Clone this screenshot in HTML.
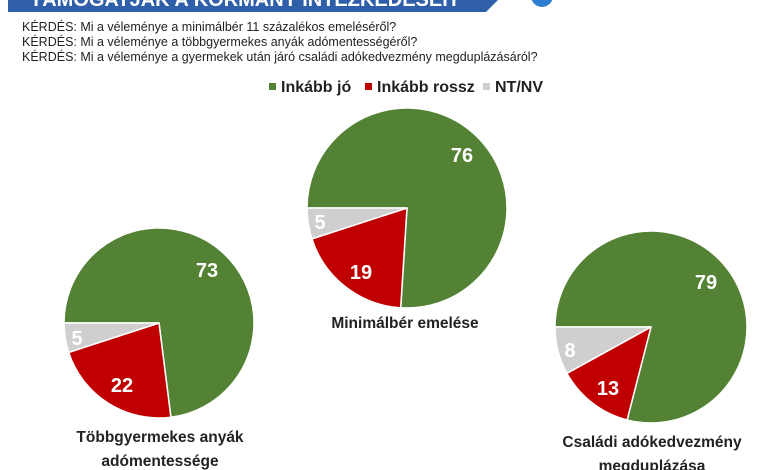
<!DOCTYPE html>
<html><head><meta charset="utf-8"><style>
html,body{margin:0;padding:0;background:#fff;}
body{width:780px;height:470px;overflow:hidden;position:relative;font-family:"Liberation Sans",sans-serif;}
</style></head><body>
<svg width="780" height="470" viewBox="0 0 780 470" xmlns="http://www.w3.org/2000/svg" style="position:absolute;left:0;top:0">
<polygon points="8,-2 500,-2 486,12 8,12" fill="#2f5fa8"/>
<text x="30" y="6" font-family="Liberation Sans" font-weight="bold" font-size="20" fill="#fff">TÁMOGATJÁK A KORMÁNY INTÉZKEDÉSEIT</text>
<circle cx="542" cy="-4" r="11" fill="#2f7fd0"/>
<g font-family="Liberation Sans Narrow, Liberation Sans, sans-serif" font-size="12.5" fill="#222">
<text x="22" y="31">KÉRDÉS: Mi a véleménye a minimálbér 11 százalékos emeléséről?</text>
<text x="22" y="46">KÉRDÉS: Mi a véleménye a többgyermekes anyák adómentességéről?</text>
<text x="22" y="61">KÉRDÉS: Mi a véleménye a gyermekek után járó családi adókedvezmény megduplázásáról?</text>
</g>
<g font-family="Liberation Sans Narrow, Liberation Sans, sans-serif" font-weight="bold" font-size="16" fill="#222">
<rect x="269" y="83" width="7" height="7" fill="#548235"/><text x="281" y="92">Inkább jó</text>
<rect x="365" y="83" width="7" height="7" fill="#c00000"/><text x="377" y="92">Inkább rossz</text>
<rect x="483" y="83" width="7" height="7" fill="#d0cece"/><text x="495" y="92">NT/NV</text>
</g>
<g stroke="#fff" stroke-width="1.5" stroke-linejoin="round">
<path d="M407,208 L307,208 A100,100 0 1 1 400.7,307.8 Z" fill="#548235"/>
<path d="M407,208 L400.7,307.8 A100,100 0 0 1 311.9,238.9 Z" fill="#c00000"/>
<path d="M407,208 L311.9,238.9 A100,100 0 0 1 307,208 Z" fill="#d0cece"/>
<path d="M159,323 L64,323 A95,95 0 1 1 170.9,417.2 Z" fill="#548235"/>
<path d="M159,323 L170.9,417.2 A95,95 0 0 1 68.65,352.4 Z" fill="#c00000"/>
<path d="M159,323 L68.65,352.4 A95,95 0 0 1 64,323 Z" fill="#d0cece"/>
<path d="M651,327 L555,327 A96,96 0 1 1 627.1,420 Z" fill="#548235"/>
<path d="M651,327 L627.1,420 A96,96 0 0 1 566.9,373.3 Z" fill="#c00000"/>
<path d="M651,327 L566.9,373.3 A96,96 0 0 1 555,327 Z" fill="#d0cece"/>
</g>
<g font-family="Liberation Sans" font-weight="bold" font-size="20" fill="#fff" text-anchor="middle">
<text x="462" y="162">76</text><text x="320" y="229">5</text><text x="361" y="279">19</text>
<text x="207" y="277">73</text><text x="77" y="345">5</text><text x="122" y="392">22</text>
<text x="706" y="289">79</text><text x="570" y="357">8</text><text x="608" y="395">13</text>
</g>
<g font-family="Liberation Sans" font-weight="bold" font-size="15.5" fill="#222" text-anchor="middle">
<text x="405" y="328">Minimálbér emelése</text>
<text x="160" y="442">Többgyermekes anyák</text>
<text x="160" y="466">adómentessége</text>
<text x="652" y="447">Családi adókedvezmény</text>
<text x="652" y="471">megduplázása</text>
</g>
</svg>
</body></html>
